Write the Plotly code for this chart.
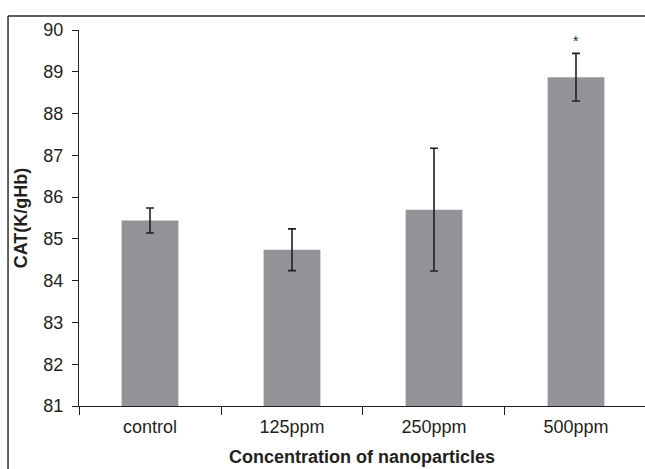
import plotly.graph_objects as go

categories = ["control", "125ppm", "250ppm", "500ppm"]
values = [85.44, 84.74, 85.70, 88.87]
errors = [0.30, 0.50, 1.47, 0.57]
y_ticks = [81, 82, 83, 84, 85, 86, 87, 88, 89, 90]
star_label = ["", "", "", "*"]

fig = go.Figure()
fig.add_trace(go.Bar(
    x=categories, y=values, width=0.4,
    marker=dict(color="#939498", line=dict(width=0)),
    error_y=dict(type="data", array=errors, visible=True, color="#231f20", thickness=1.6, width=4),
    showlegend=False,
))
for c, v, e, s in zip(categories, values, errors, star_label):
    if s:
        fig.add_annotation(x=c, y=v + e, text=s, showarrow=False, yshift=12,
                           font=dict(size=14, color="#231f20", family="Liberation Sans"))

fig.update_layout(
    width=645, height=469,
    margin=dict(l=79, r=0, t=30, b=63),
    paper_bgcolor="white", plot_bgcolor="white",
    font=dict(family="Liberation Sans, Arial, sans-serif", color="#231f20", size=18),
    bargap=0.6,
)
fig.update_xaxes(
    range=[-0.5, 3.486], showline=True, linecolor="#231f20", linewidth=1.3,
    ticks="outside", tickson="boundaries", ticklen=8, tickcolor="#231f20", tickwidth=1.3,
    showgrid=False, zeroline=False, ticklabelstandoff=4,
    title=dict(text="<b>Concentration of nanoparticles</b>", font=dict(size=18), standoff=14),
)
fig.update_yaxes(
    range=[81, 90], tickvals=y_ticks, showline=True, linecolor="#231f20", linewidth=1.3,
    ticks="outside", ticklen=6, tickcolor="#231f20", tickwidth=1.3,
    showgrid=False, zeroline=False, ticklabelstandoff=5,
    title=dict(text="<b>CAT(K/gHb)</b>", font=dict(size=18), standoff=10),
)
fig.add_shape(type="line", xref="paper", yref="paper",
              x0=-0.1254, x1=-0.1254, y0=-0.17, y1=1.0373,
              line=dict(color="#2b2b2b", width=1.5), layer="below")
fig.add_shape(type="line", xref="paper", yref="paper",
              x0=-0.1254, x1=1.02, y0=1.0373, y1=1.0373,
              line=dict(color="#2b2b2b", width=1.5), layer="below")

fig.write_html("out.html", config={"displayModeBar": False})
